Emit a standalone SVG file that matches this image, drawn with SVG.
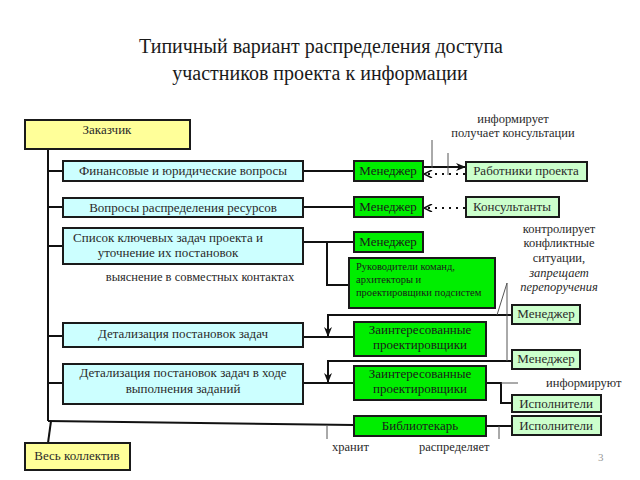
<svg xmlns="http://www.w3.org/2000/svg" width="640" height="480" viewBox="0 0 640 480">
<style>
.yel{fill:#FFFF99;stroke:#1a1a1a;stroke-width:2}
.blue{fill:#CCFFFF;stroke:#1a1a1a;stroke-width:2}
.grn{fill:#00EE00;stroke:#1a1a1a;stroke-width:2}
.lg{fill:#CCFFCC;stroke:#1a1a1a;stroke-width:2}
.c{fill:none;stroke:#111;stroke-width:2}
.thin{fill:none;stroke:#555;stroke-width:1}
.dot{fill:none;stroke:#111;stroke-width:2;stroke-dasharray:2 5}
</style>
<defs>
<marker id="arr" markerWidth="10" markerHeight="8" refX="9" refY="4" orient="auto" markerUnits="userSpaceOnUse">
<path d="M0,0 L10,4 L0,8 L3,4 Z" fill="#111"/>
</marker>
<marker id="chev" markerWidth="10" markerHeight="8" refX="9" refY="4" orient="auto" markerUnits="userSpaceOnUse">
<path d="M1,0 L9,4 L1,8" fill="none" stroke="#111" stroke-width="1.5"/>
</marker>
</defs>
<rect width="640" height="480" fill="#fff"/>
<text x="321" y="53" font-family="Liberation Serif" font-size="20" text-anchor="middle" fill="#1a1a1a">Типичный вариант распределения доступа</text>
<text x="320" y="80" font-family="Liberation Serif" font-size="20" text-anchor="middle" fill="#1a1a1a">участников проекта к информации</text>

<g id="connectors">
<path class="c" d="M48,149 V421"/>
<path class="c" d="M48,421 L354,425"/>
<path class="c" d="M51,421 L48,443"/>
<path class="c" d="M48,171 H63 M48,207 H63 M48,246 H63 M48,336 H63 M48,383 H63"/>
<path class="c" d="M303,171 H354 M303,207 H354 M303,242 H354"/>
<path class="c" d="M327,242 V285 H349"/>
<path class="c" d="M303,337 H354 M303,383 H354"/>
<path class="c" d="M423,167 H465" marker-end="url(#arr)"/>
<path class="dot" d="M465,174 H424" marker-end="url(#chev)"/>
<path class="dot" d="M465,208 H424" marker-end="url(#chev)"/>
<path class="thin" d="M432,140 V168 M448,153 V175"/>
<path class="c" d="M512,315 H328 V336" marker-end="url(#arr)"/>
<path class="c" d="M512,361 H328 V382" marker-end="url(#arr)"/>
<path class="c" d="M486,383 H501 V403 H512"/>
<path class="thin" d="M501,383 H518"/>
<path class="c" d="M486,426 H512"/>
<path class="thin" d="M507,283 L497,315 M507,283 V361"/>
<path class="thin" d="M327,426 V439 M499,426 V439"/>
</g>

<g id="n-zakazchik"><rect class="yel" x="25" y="120" width="165" height="29"/><text x="107" y="134" font-family="Liberation Serif" font-size="13" text-anchor="middle" fill="#2a2a2a">Заказчик</text></g>
<g id="n-ves"><rect class="yel" x="25" y="443" width="105" height="27"/><text x="77" y="460" font-family="Liberation Serif" font-size="13" text-anchor="middle" fill="#2a2a2a">Весь коллектив</text></g>

<g id="n-fin"><rect class="blue" x="63" y="161" width="240" height="20"/><text x="183" y="175" font-family="Liberation Serif" font-size="13" text-anchor="middle" fill="#2a2a2a">Финансовые и юридические вопросы</text></g>
<g id="n-res"><rect class="blue" x="63" y="198" width="240" height="19"/><text x="183" y="212" font-family="Liberation Serif" font-size="13" text-anchor="middle" fill="#2a2a2a">Вопросы распределения ресурсов</text></g>
<g id="n-spisok"><rect class="blue" x="63" y="228" width="240" height="36"/><text x="168" y="242" font-family="Liberation Serif" font-size="13" text-anchor="middle" fill="#2a2a2a">Список ключевых задач проекта и</text><text x="168" y="257" font-family="Liberation Serif" font-size="13" text-anchor="middle" fill="#2a2a2a">уточнение их постановок</text></g>
<g id="n-det1"><rect class="blue" x="63" y="323" width="240" height="24"/><text x="183" y="338" font-family="Liberation Serif" font-size="13" text-anchor="middle" fill="#2a2a2a">Детализация постановок задач</text></g>
<g id="n-det2"><rect class="blue" x="63" y="364" width="240" height="40"/><text x="183" y="377" font-family="Liberation Serif" font-size="13" text-anchor="middle" fill="#2a2a2a">Детализация постановок задач в ходе</text><text x="183" y="393" font-family="Liberation Serif" font-size="13" text-anchor="middle" fill="#2a2a2a">выполнения заданий</text></g>

<g id="n-m1"><rect class="grn" x="354" y="161" width="69" height="20"/><text x="388" y="175" font-family="Liberation Serif" font-size="13" text-anchor="middle" fill="#1a1a1a">Менеджер</text></g>
<g id="n-m2"><rect class="grn" x="354" y="197" width="69" height="20"/><text x="388" y="211" font-family="Liberation Serif" font-size="13" text-anchor="middle" fill="#1a1a1a">Менеджер</text></g>
<g id="n-m3"><rect class="grn" x="354" y="232" width="69" height="20"/><text x="388" y="246" font-family="Liberation Serif" font-size="13" text-anchor="middle" fill="#1a1a1a">Менеджер</text></g>
<g id="n-ruk"><rect class="grn" x="349" y="258" width="146" height="50"/><text x="356" y="270" font-family="Liberation Serif" font-size="10.5" fill="#1a1a1a">Руководители команд,</text><text x="356" y="283" font-family="Liberation Serif" font-size="10.5" fill="#1a1a1a">архитекторы и</text><text x="356" y="296" font-family="Liberation Serif" font-size="10.5" fill="#1a1a1a">проектировщики подсистем</text></g>
<g id="n-zp1"><rect class="grn" x="354" y="322" width="132" height="34"/><text x="420" y="334" font-family="Liberation Serif" font-size="13" text-anchor="middle" fill="#1a1a1a">Заинтересованные</text><text x="420" y="349" font-family="Liberation Serif" font-size="13" text-anchor="middle" fill="#1a1a1a">проектировщики</text></g>
<g id="n-zp2"><rect class="grn" x="354" y="366" width="132" height="34"/><text x="420" y="378" font-family="Liberation Serif" font-size="13" text-anchor="middle" fill="#1a1a1a">Заинтересованные</text><text x="420" y="393" font-family="Liberation Serif" font-size="13" text-anchor="middle" fill="#1a1a1a">проектировщики</text></g>
<g id="n-bib"><rect class="grn" x="354" y="416" width="132" height="20"/><text x="420" y="430" font-family="Liberation Serif" font-size="13" text-anchor="middle" fill="#1a1a1a">Библиотекарь</text></g>

<g id="n-rab"><rect class="lg" x="466" y="162" width="121" height="19"/><text x="526" y="175" font-family="Liberation Serif" font-size="13" text-anchor="middle" fill="#2a2a2a">Работники проекта</text></g>
<g id="n-kons"><rect class="lg" x="466" y="197" width="93" height="20"/><text x="512" y="211" font-family="Liberation Serif" font-size="13" text-anchor="middle" fill="#2a2a2a">Консультанты</text></g>
<g id="n-rm1"><rect class="lg" x="512" y="305" width="68" height="19"/><text x="546" y="318" font-family="Liberation Serif" font-size="13" text-anchor="middle" fill="#2a2a2a">Менеджер</text></g>
<g id="n-rm2"><rect class="lg" x="512" y="350" width="68" height="19"/><text x="546" y="363" font-family="Liberation Serif" font-size="13" text-anchor="middle" fill="#2a2a2a">Менеджер</text></g>
<g id="n-isp1"><rect class="lg" x="512" y="395" width="89" height="17"/><text x="556" y="408" font-family="Liberation Serif" font-size="13" text-anchor="middle" fill="#2a2a2a">Исполнители</text></g>
<g id="n-isp2"><rect class="lg" x="512" y="416" width="89" height="19"/><text x="556" y="430" font-family="Liberation Serif" font-size="13" text-anchor="middle" fill="#2a2a2a">Исполнители</text></g>

<g id="labels" font-family="Liberation Serif" font-size="12.5" fill="#2a2a2a">
<text x="200" y="281" font-family="Liberation Serif" text-anchor="middle">выяснение в совместных контактах</text>
<text x="513" y="123" font-family="Liberation Serif" text-anchor="middle">информирует</text>
<text x="513" y="137" font-family="Liberation Serif" text-anchor="middle">получает консультации</text>
<text x="559" y="233" font-family="Liberation Serif" text-anchor="middle">контролирует</text>
<text x="559" y="247" font-family="Liberation Serif" text-anchor="middle">конфликтные</text>
<text x="559" y="262" font-family="Liberation Serif" text-anchor="middle">ситуации,</text>
<text x="559" y="277" font-family="Liberation Serif" text-anchor="middle" font-style="italic">запрещает</text>
<text x="559" y="291" font-family="Liberation Serif" text-anchor="middle" font-style="italic">перепоручения</text>
<text x="546" y="387" font-family="Liberation Serif">информируют</text>
<text x="332" y="451" font-family="Liberation Serif">хранит</text>
<text x="419" y="451" font-family="Liberation Serif">распределяет</text>
<text x="598" y="461" font-family="Liberation Serif" font-size="11" fill="#999">3</text>
</g>
</svg>
